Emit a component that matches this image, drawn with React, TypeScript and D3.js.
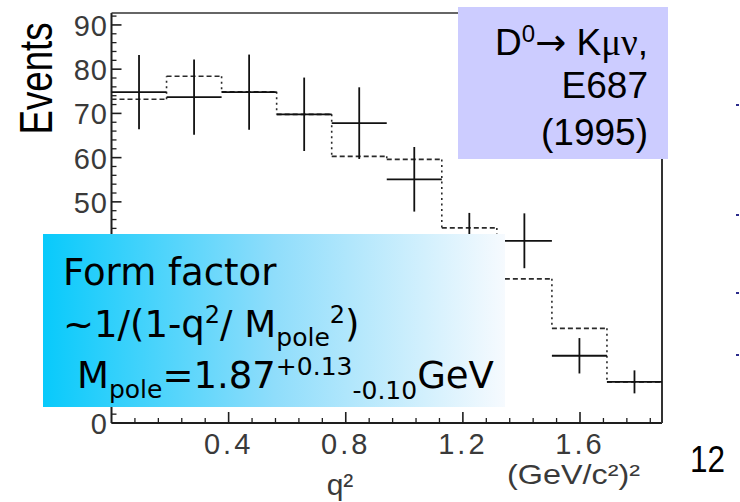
import React from 'react';
import * as d3 from 'd3';

// q^2 bins (GeV/c^2)^2
const binLow = [0.0, 0.188, 0.376, 0.564, 0.752, 0.94, 1.128, 1.316, 1.504, 1.692];
const binHigh = [0.188, 0.376, 0.564, 0.752, 0.94, 1.128, 1.316, 1.504, 1.692, 1.88];
// measured events with errors
const dataEvents = [74.8, 73.7, 74.8, 69.8, 67.8, 55.1, 40.5, 41.2, 15.2, 9.3];
const dataErrors = [8.4, 8.5, 8.5, 8.3, 8.1, 7.3, 7.0, 6.2, 4.0, 2.6];
// fitted (pole form factor) histogram
const fitEvents = [73.2, 78.4, 74.9, 69.8, 60.3, 59.6, 44.1, 32.6, 21.4, 9.3];

const yTickValues = [0, 10, 20, 30, 40, 50, 60, 70, 80, 90];
const yTickLabels = ['0', '10', '20', '30', '40', '50', '60', '70', '80', '90'];
const xTickValues = [0.4, 0.8, 1.2, 1.6];
const xTickLabels = ['0.4', '0.8', '1.2', '1.6'];

const W = 740;
const H = 502;

// overlay box (slide annotation) that hides part of the y axis labels
const FF_BOX = { x: 43, y: 234, w: 462, h: 173 };

export default function App() {
  const x = d3.scaleLinear().domain([0, 1.88]).range([111.5, 662]);
  const y = d3.scaleLinear().domain([0, 92.7]).range([423, 13]);

  const yMinor = d3.range(0, 93, 2).filter((v) => v % 10 !== 0);
  const xMinor = d3.range(0.08, 1.88, 0.08).filter((v) => Math.abs(v / 0.4 - Math.round(v / 0.4)) > 0.01);

  const ink = '#1e1e1e';
  const tickFont = "'Liberation Sans', Arial, sans-serif";
  const boxFont = "'DejaVu Sans', Verdana, sans-serif";

  const fitH = fitEvents.map((v, i) => ({ x1: x(binLow[i]), x2: x(binHigh[i]), yv: y(v) }));
  const fitV = fitEvents.slice(1).map((v, i) => ({ xv: x(binLow[i + 1]), y1: y(fitEvents[i]), y2: y(v) }));

  const visibleY = yTickValues
    .map((v, i) => ({ v, label: yTickLabels[i] }))
    .filter((d) => y(d.v) < FF_BOX.y - 8 || y(d.v) > FF_BOX.y + FF_BOX.h + 4);

  return (
    <svg width={W} height={H} style={{ position: 'absolute', left: 0, top: 0, background: '#fff' }}>
      <defs>
        <linearGradient id="ffGrad" x1="0" x2="1" y1="0" y2="0">
          <stop offset="0" stopColor="#08CAFB" />
          <stop offset="0.5" stopColor="#8FDDFB" />
          <stop offset="1" stopColor="#F6FAFE" />
        </linearGradient>
      </defs>

      {/* frame */}
      <line x1={x(0)} x2={x(0)} y1={y(92.7)} y2={y(0)} stroke={ink} strokeWidth={2} />
      <line x1={x(0)} x2={x(1.88)} y1={y(0)} y2={y(0)} stroke={ink} strokeWidth={2} />
      <line x1={x(1.88)} x2={x(1.88)} y1={y(92.7)} y2={y(0)} stroke="#333" strokeWidth={2} />
      <line x1={x(0)} x2={x(1.88)} y1={y(92.7)} y2={y(92.7)} stroke="#333" strokeWidth={1.5} />

      {/* y ticks */}
      {yTickValues.map((v) => (
        <line key={'ym' + v} x1={x(0)} x2={x(0) + 10} y1={y(v)} y2={y(v)} stroke={ink} strokeWidth={1.6} />
      ))}
      {yMinor.map((v) => (
        <line key={'yn' + v} x1={x(0)} x2={x(0) + 5} y1={y(v)} y2={y(v)} stroke={ink} strokeWidth={1.3} />
      ))}
      {visibleY.map((d) => (
        <text key={'yl' + d.v} x={108} y={y(d.v) + 11} textAnchor="end" fontFamily={tickFont} fontSize={29}
          fill="#3a3a3a" letterSpacing={1}>{d.label}</text>
      ))}

      {/* x ticks */}
      {xTickValues.map((v) => (
        <line key={'xm' + v} x1={x(v)} x2={x(v)} y1={y(0)} y2={y(0) - 11} stroke={ink} strokeWidth={1.6} />
      ))}
      {xMinor.map((v) => (
        <line key={'xn' + v.toFixed(2)} x1={x(v)} x2={x(v)} y1={y(0)} y2={y(0) - 5} stroke={ink} strokeWidth={1.3} />
      ))}
      {xTickValues.map((v, i) => (
        <text key={'xl' + v} x={x(v)} y={454} textAnchor="middle" fontFamily={tickFont} fontSize={29}
          fill="#3a3a3a" letterSpacing={3}>{xTickLabels[i]}</text>
      ))}

      {/* axis titles */}
      <text x={340} y={495} textAnchor="middle" fontFamily={tickFont} fontSize={30} fill="#3a3a3a">q²</text>
      <text x={507} y={484} fontFamily={tickFont} fontSize={28} fill="#3a3a3a" textLength={133}
        lengthAdjust="spacingAndGlyphs">(GeV/c²)²</text>
      <text transform="translate(52,78.5) rotate(-90) scale(0.78,1)" textAnchor="middle" fontFamily={tickFont}
        fontSize={47} fill="#000">Events</text>

      {/* fit histogram */}
      {fitH.map((s, i) => (
        <line key={'fh' + i} x1={s.x1} x2={s.x2} y1={s.yv} y2={s.yv} stroke="#2a2a2a" strokeWidth={1.7}
          strokeDasharray="5 3" />
      ))}
      {fitV.map((s, i) => (
        <line key={'fv' + i} x1={s.xv} x2={s.xv} y1={s.y1} y2={s.y2} stroke="#2a2a2a" strokeWidth={1.6}
          strokeDasharray="2 3.5" />
      ))}

      {/* data points */}
      {dataEvents.map((v, i) => {
        const cx = x((binLow[i] + binHigh[i]) / 2);
        return (
          <g key={'d' + i}>
            <line x1={x(binLow[i])} x2={x(binHigh[i])} y1={y(v)} y2={y(v)} stroke="#111" strokeWidth={1.8} />
            <line x1={cx} x2={cx} y1={y(v + dataErrors[i])} y2={y(v - dataErrors[i])} stroke="#111" strokeWidth={1.8} />
          </g>
        );
      })}

      {/* purple annotation box */}
      <rect x={458} y={7} width={210} height={152} fill="#CCCCFF" />
      <text x={648} y={55} textAnchor="end" fontFamily={tickFont} fontSize={37} fill="#000">
        D<tspan fontSize={24} dy={-13}>0</tspan><tspan fontSize={37} dy={13}
          fontFamily="'DejaVu Sans', sans-serif">→</tspan><tspan> K</tspan>
        <tspan fontFamily="'Liberation Serif', 'Times New Roman', serif">μν</tspan>,
      </text>
      <text x={648} y={98} textAnchor="end" fontFamily={tickFont} fontSize={37} fill="#000">E687</text>
      <text x={648} y={145} textAnchor="end" fontFamily={tickFont} fontSize={37} fill="#000">(1995)</text>

      {/* form factor box */}
      <rect x={FF_BOX.x} y={FF_BOX.y} width={FF_BOX.w} height={FF_BOX.h} fill="url(#ffGrad)" />
      <text x={63} y={285} fontFamily={boxFont} fontSize={37} fill="#000">Form factor</text>
      <text x={63} y={337} fontFamily={boxFont} fontSize={37} fill="#000">
        ~1/(1-q<tspan fontSize={24} dy={-14}>2</tspan><tspan fontSize={37} dy={14}>/ M</tspan>
        <tspan fontSize={25} dy={9}>pole</tspan><tspan fontSize={24} dy={-23}>2</tspan>
        <tspan fontSize={37} dy={14}>)</tspan>
      </text>
      <text x={77} y={388} fontFamily={boxFont} fontSize={37} fill="#000">
        M<tspan fontSize={25} dy={10}>pole</tspan><tspan fontSize={37} dy={-10}>=1.87</tspan>
        <tspan fontSize={25} dy={-13}>+0.13</tspan><tspan fontSize={25} dy={24}>-0.10</tspan>
        <tspan fontSize={37} dy={-11}>GeV</tspan>
      </text>

      {/* slide page number */}
      <text x={690} y={472} fontFamily={tickFont} fontSize={36} fill="#000" textLength={35}
        lengthAdjust="spacingAndGlyphs">12</text>

      {/* cropped bullet remnants at right edge */}
      {[105, 215, 293, 355].map((yy) => (
        <line key={'b' + yy} x1={736} x2={739} y1={yy} y2={yy} stroke="#2c2c8c" strokeWidth={2} />
      ))}
    </svg>
  );
}
